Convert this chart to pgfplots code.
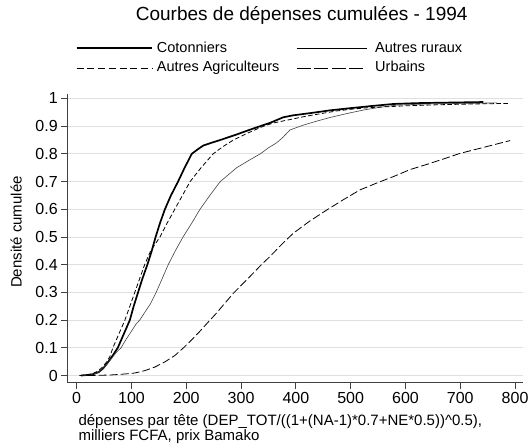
\documentclass[border=0pt]{standalone}
\usepackage{pgfplots}
\pgfplotsset{compat=1.18}
\usepackage{fontspec}
\setmainfont{Liberation Sans}
\begin{document}
\begin{tikzpicture}[x=1bp,y=1bp]
\path[use as bounding box] (0,0) rectangle (531,-448);
\begin{axis}[
  at={(67.7bp,-382.7bp)}, anchor=south west, scale only axis,
  width=455.6bp, height=288.7bp,
  xmin=-16.4, xmax=815, ymin=-0.026, ymax=1.016,
  axis x line*=bottom, axis y line*=left,
  axis line style={black!75, line width=0.8bp, -},
  xtick={0,100,200,300,400,500,600,700,800},
  ytick={0,0.1,0.2,0.3,0.4,0.5,0.6,0.7,0.8,0.9,1},
  tick align=outside, major tick length=6.5bp,
  tick style={black!75, line width=0.8bp},
  ymajorgrids, grid style={black!12, line width=0.8bp},
  /pgf/number format/assume math mode=true,
  ticklabel style={font=\fontsize{16bp}{18bp}\selectfont},
  title={Courbes de dépenses cumulées - 1994},
  title style={at={(axis description cs:0.5136,1.2355)}, anchor=base, inner sep=0pt, font=\fontsize{19bp}{22bp}\selectfont},
  xlabel={dépenses par tête (DEP\_TOT/((1+(NA-1)*0.7+NE*0.5))\textasciicircum 0.5),\\milliers FCFA, prix Bamako},
  xlabel style={at={(axis description cs:0.0233,-0.2019)}, anchor=base west, align=left, inner sep=0pt, font=\fontsize{15bp}{15.5bp}\selectfont},
  ylabel={Densité cumulée},
  ylabel style={at={(axis description cs:-0.101,0.522)}, anchor=base, inner sep=0pt, font=\fontsize{15bp}{17bp}\selectfont},
]
% Cotonniers
\addplot[black, line width=1.7bp, line join=round] coordinates {
(8,0)(20,0.002)(30,0.005)(40,0.012)(48,0.025)(56,0.045)(65,0.07)(75,0.1)(86,0.15)(97,0.2)(104,0.25)(112,0.3)(120,0.35)(129,0.4)(137,0.45)(144,0.5)(152,0.55)(161,0.6)(172,0.65)(185,0.7)(197,0.75)(210,0.8)(220,0.815)(231,0.83)(246,0.84)(262,0.85)(277,0.86)(292,0.87)(313,0.885)(335,0.9)(353,0.912)(365,0.922)(377,0.932)(395,0.939)(430,0.948)(462,0.957)(500,0.965)(540,0.973)(578,0.98)(620,0.983)(680,0.985)(742,0.987)};
% Autres ruraux
\addplot[black!75, line width=0.6bp] coordinates {
(10,0)(25,0.003)(38,0.01)(48,0.025)(57,0.045)(65,0.065)(73,0.085)(81,0.1)(90,0.13)(100,0.16)(108,0.185)(115,0.2)(125,0.23)(135,0.26)(145,0.3)(155,0.345)(167,0.4)(180,0.45)(194,0.5)(210,0.55)(225,0.6)(243,0.65)(262,0.7)(277,0.725)(292,0.75)(313,0.775)(335,0.8)(350,0.822)(365,0.84)(377,0.861)(389,0.886)(414,0.904)(438,0.918)(462,0.931)(492,0.945)(523,0.958)(553,0.968)(584,0.976)(640,0.98)(700,0.982)(767,0.984)};
% Autres Agriculteurs
\addplot[black, line width=0.8bp, dash pattern=on 4.5bp off 2.5bp] coordinates {
(5,0)(18,0.002)(27,0.005)(38,0.015)(47,0.03)(55,0.05)(61,0.07)(66,0.1)(77,0.15)(88,0.2)(97,0.25)(106,0.3)(115,0.35)(124,0.4)(135,0.45)(152,0.5)(165,0.55)(179,0.6)(193,0.65)(207,0.7)(227,0.75)(249,0.8)(266,0.825)(286,0.85)(312,0.875)(341,0.9)(360,0.912)(385,0.922)(414,0.934)(445,0.945)(475,0.955)(505,0.962)(535,0.967)(596,0.973)(657,0.977)(720,0.98)(788,0.982)};
% Urbains
\addplot[black, line width=0.8bp, dash pattern=on 8bp off 3bp] coordinates {
(20,0)(45,0.001)(63,0.002)(85,0.005)(106,0.009)(125,0.018)(142,0.03)(160,0.048)(179,0.072)(195,0.1)(209,0.127)(225,0.16)(240,0.193)(255,0.225)(270,0.26)(286,0.297)(304,0.333)(322,0.369)(337,0.4)(353,0.43)(375,0.475)(395,0.513)(425,0.557)(456,0.597)(487,0.635)(517,0.67)(548,0.695)(578,0.718)(608,0.743)(639,0.762)(670,0.782)(700,0.802)(740,0.822)(791,0.848)};
\end{axis}
% legend
\begin{scope}[every node/.style={anchor=base west, inner sep=0pt, font=\fontsize{14.5bp}{16bp}\selectfont}]
\draw[line width=1.7bp] (76.7,-48.3) -- (151.7,-48.3);
\node at (156.7,-52.3) {Cotonniers};
\draw[line width=0.7bp] (296.7,-48.3) -- (366.7,-48.3);
\node at (375,-52.3) {Autres ruraux};
\draw[line width=0.8bp, dash pattern=on 7bp off 3.7bp] (76.7,-68.3) -- (151.7,-68.3);
\node at (156.7,-71.7) {Autres Agriculteurs};
\draw[line width=0.8bp, dash pattern=on 14bp off 3.5bp] (296.7,-68.3) -- (366.7,-68.3);
\node at (375,-71.7) {Urbains};
\end{scope}
\end{tikzpicture}
\end{document}
